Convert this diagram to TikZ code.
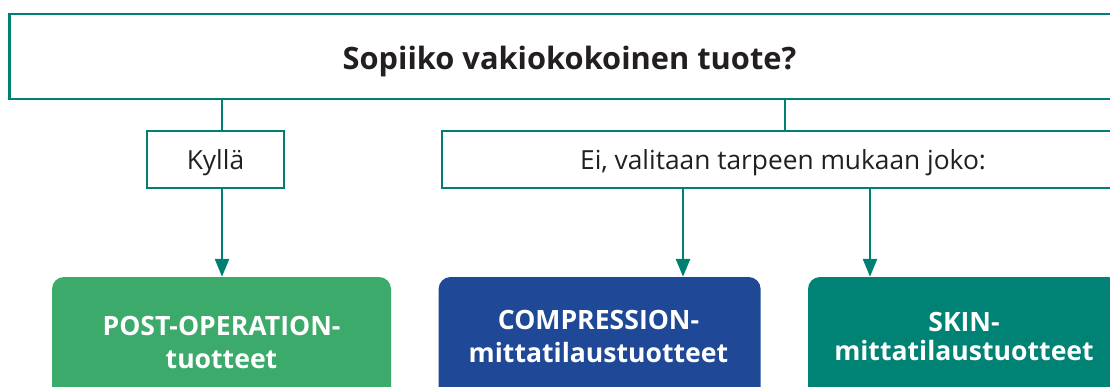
\documentclass[tikz,border=0pt]{standalone}
\usepackage{fontspec}
\setmainfont{Open Sans}
\usetikzlibrary{arrows.meta}
\definecolor{tealline}{RGB}{0,128,115}
\definecolor{tealfill}{RGB}{0,130,116}
\definecolor{greenfill}{RGB}{59,170,106}
\definecolor{bluefill}{RGB}{31,72,150}
\definecolor{darktext}{RGB}{35,31,32}
\begin{document}
\begin{tikzpicture}[x=1pt,y=-1pt,
  outlinebox/.style={draw=tealline, line width=2.7pt, fill=white, inner sep=0pt, text=darktext},
  conn/.style={draw=tealline, line width=2.7pt},
  arr/.style={conn, -{Triangle[length=18pt,width=14pt]}},
  prodbox/.style={rounded corners=12pt, inner sep=0pt, minimum height=130pt},
  prodtext/.style={text=white, font=\fontsize{26.6}{30}\selectfont\bfseries, inner sep=0pt, anchor=base},
  smalltext/.style={font=\fontsize{26.3}{30}\selectfont, text height=21pt, text depth=0pt}
]
\useasboundingbox (0,0) rectangle (1110,387);
% x positions of the connectors
\coordinate (xa) at (222,0);
\coordinate (xb) at (785,0);
\coordinate (xc) at (683,0);
\coordinate (xd) at (870,0);

% boxes
\node[outlinebox, minimum width=1120pt, minimum height=85pt,
      font=\fontsize{30.8}{36}\selectfont\bfseries, text height=25.6pt, text depth=0pt]
      (q) at (569.5,56.5) {Sopiiko vakiokokoinen tuote?};
\node[outlinebox, smalltext, minimum width=137pt, minimum height=57pt]
      (yes) at (215.5,159.5) {Kyllä};
\node[outlinebox, smalltext, minimum width=682pt, minimum height=57pt]
      (no) at (783,159.5) {Ei, valitaan tarpeen mukaan joko:};

\node[prodbox, fill=greenfill, minimum width=339pt] (post) at (221.5,342) {};
\node[prodbox, fill=bluefill, minimum width=322pt] (comp) at (599.6,342) {};
\node[prodbox, fill=tealfill, minimum width=312pt] (skin) at (964,342) {};

\node[prodtext] (post1) at (221.5,335) {POST-OPERATION-};
\node[prodtext] (post2) at (221.5,368.5) {tuotteet};
\node[prodtext] (comp1) at (598.5,329.5) {COMPRESSION-};
\node[prodtext] (comp2) at (598.5,362) {mittatilaustuotteet};
\node[prodtext] (skin1) at (964,331) {SKIN-};
\node[prodtext] (skin2) at (964,360) {mittatilaustuotteet};

% connectors
\draw[conn] (q.south -| xa) -- (yes.north -| xa);
\draw[arr] (yes.south -| xa) -- (post.north -| xa);
\draw[conn] (q.south -| xb) -- (no.north -| xb);
\draw[arr] (no.south -| xc) -- (comp.north -| xc);
\draw[arr] (no.south -| xd) -- (skin.north -| xd);
\end{tikzpicture}
\end{document}
